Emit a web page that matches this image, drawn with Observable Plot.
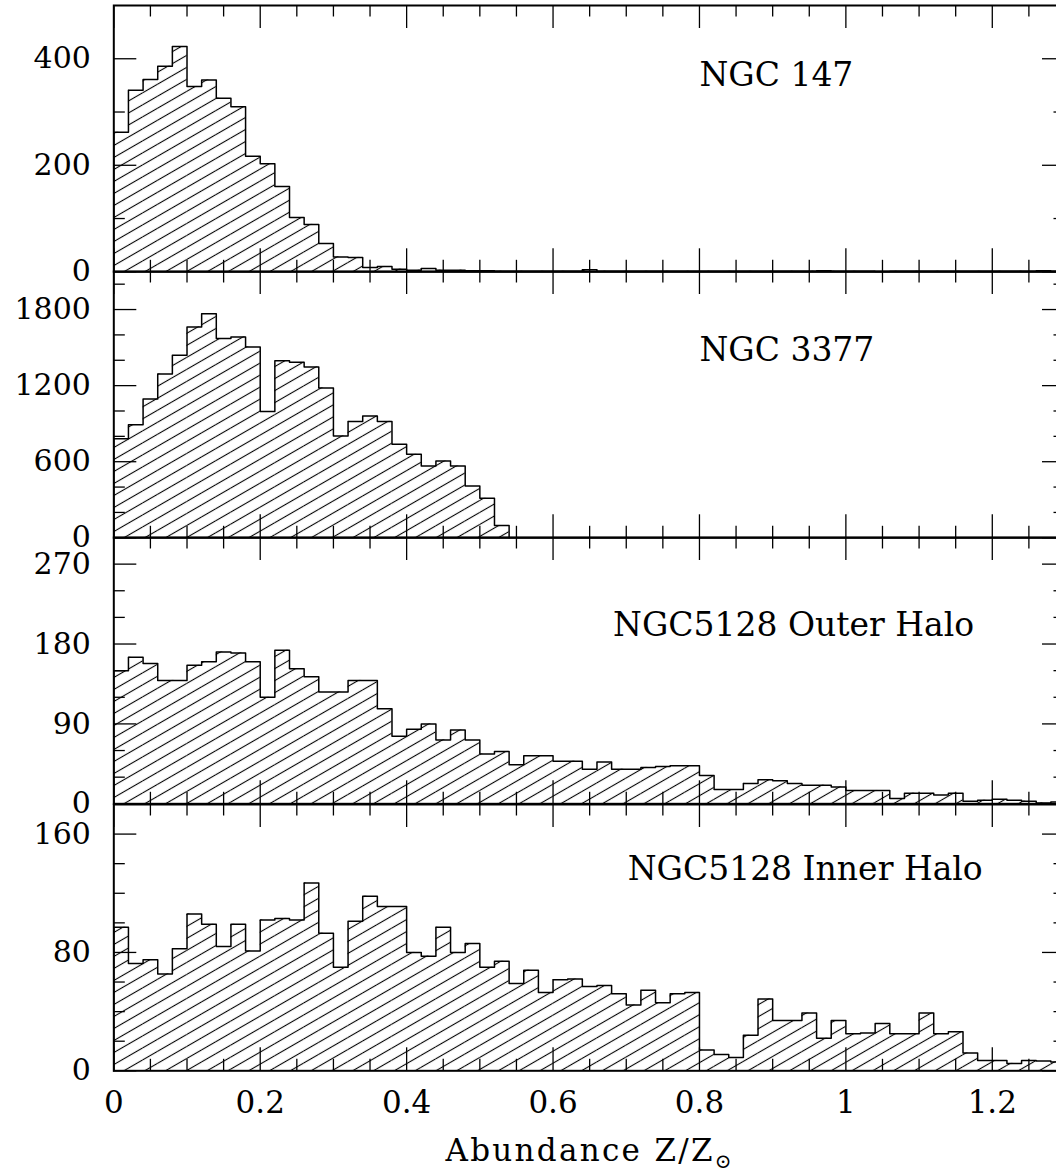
<!DOCTYPE html>
<html><head><meta charset="utf-8">
<script src="https://cdn.jsdelivr.net/npm/d3@7"></script>
<script src="https://cdn.jsdelivr.net/npm/@observablehq/plot@0.6"></script>
<style>
html,body{margin:0;padding:0;background:#fff;overflow:hidden;}
#chart{position:relative;width:1056px;height:1173px;overflow:hidden;background:#fff;}
#chart svg{position:absolute;left:0;}
</style></head><body><div id="chart"></div>
<script>
// ---- data ----
const binWidth = 0.02;
const ngc147 = [262, 341, 361, 386, 423, 348, 360, 326, 310, 217, 203, 160, 102, 89, 53, 28, 27, 8, 10, 5,
  3, 6, 3, 3, 2, 2, 1, 1, 1, 1, 1, 1, 4, 1, 1, 1, 1, 1, 1, 1,
  1, 1, 1, 1, 1, 1, 1, 1, 2, 1, 1, 1, 0.5, 1, 1, 1, 1, 1, 1, 1,
  1, 1, 1, 2, 1];
const ngc3377 = [782, 892, 1095, 1292, 1439, 1663, 1766, 1571, 1584, 1505, 995, 1397, 1384, 1347, 1182, 803,
  918, 961, 918, 737, 658, 566, 605, 566, 408, 311, 97];
const outerHalo = [150, 165, 158, 139, 139, 156, 160, 171, 170, 160, 120, 173, 152, 143, 126, 126, 139, 139, 107, 76,
  84, 90, 72, 83, 72, 56, 59, 44, 54, 54, 48, 48, 39, 47, 39, 39, 41, 42, 43, 43,
  32, 16, 16, 23, 27, 26, 23, 21, 21, 19, 15, 15, 15, 6, 12, 12, 10, 12, 3, 4,
  5, 4, 3, 1, 2];
const innerHalo = [97, 72.5, 75, 65.5, 82.5, 106, 99, 84, 99, 81, 102, 103, 102, 127, 93, 70, 101, 118, 111, 111,
  80, 77.5, 97, 80, 86, 70, 74, 59, 68, 53, 61.5, 62, 57, 57.6, 52, 44.5, 54.5, 46, 52, 53,
  14, 11, 9, 24, 48.6, 34, 34, 39, 22, 34, 25, 25.5, 32, 25, 25, 39, 25, 26.4, 12, 7,
  7, 5, 7, 6.6, 6];
const panelNames = ["NGC 147", "NGC 3377", "NGC5128 Outer Halo", "NGC5128 Inner Halo"];
const panelSeries = [ngc147, ngc3377, outerHalo, innerHalo];
const yMax = [500, 2100, 300, 180];
const yMajor = [[0, 200, 400], [0, 600, 1200, 1800], [0, 90, 180, 270], [0, 80, 160]];
const yMinor = [[100, 300], [200, 400, 800, 1000, 1400, 1600, 2000], [30, 60, 120, 150, 210, 240], [20, 40, 60, 100, 120, 140]];
const xMax = 1.3;
const xMajor = [0, 0.2, 0.4, 0.6, 0.8, 1, 1.2];
const xMinor = [0.05, 0.1, 0.15, 0.25, 0.3, 0.35, 0.45, 0.5, 0.55, 0.65, 0.7, 0.75, 0.85, 0.9, 0.95, 1.05, 1.1, 1.15, 1.25];
const xTitle = "Abundance Z/Z";
const xTitleSub = "\u2299";
// label anchor points (data coordinates)
const labelX = [0.8, 0.8, 0.682, 0.702];
const labelY = [348, 1396, 189, 129];

// ---- layout ----
const W = 1075, ML = 113.3, MR = W - 1065;
const H = 266.3, TOP0 = 4.7, MT = 40, MB = 40, MB4 = 120;
const FONT = "DejaVu Serif";
const chart = document.getElementById("chart");
const ns = "http://www.w3.org/2000/svg";
const plotW = W - ML - MR;

panelSeries.forEach((vals, i) => {
  const last = i === 3;
  const bins = vals.map((v, k) => ({x1: k * binWidth, x2: (k + 1) * binWidth, y: v}));
  const outline = [{x: 0, y: 0}, ...vals.map((v, k) => ({x: k * binWidth, y: v})), {x: vals.length * binWidth, y: 0}];
  const marks = [
    Plot.rectY(bins, {x1: "x1", x2: "x2", y: "y", fill: `url(#hatch${i})`}),
    Plot.line(outline, {x: "x", y: "y", curve: "step-after", stroke: "black", strokeWidth: 1.5}),
    Plot.tickX(xMajor, {x: d => d, insetTop: H - 23, strokeWidth: 1.3}),
    Plot.tickX(xMajor, {x: d => d, insetBottom: H - 23, strokeWidth: 1.3}),
    Plot.tickX(xMinor, {x: d => d, insetTop: H - 11.5, strokeWidth: 1.3}),
    Plot.tickX(xMinor, {x: d => d, insetBottom: H - 11.5, strokeWidth: 1.3}),
    Plot.tickY(yMajor[i], {y: d => d, insetRight: plotW - 23, strokeWidth: 1.3}),
    Plot.tickY(yMajor[i], {y: d => d, insetLeft: plotW - 23, strokeWidth: 1.3}),
    Plot.tickY(yMinor[i], {y: d => d, insetRight: plotW - 11.5, strokeWidth: 1.3}),
    Plot.tickY(yMinor[i], {y: d => d, insetLeft: plotW - 11.5, strokeWidth: 1.3}),
    Plot.axisY(yMajor[i], {anchor: "left", tickSize: 0, tickPadding: 23, fontSize: 30, label: null, fill: "black",
      tickFormat: d => String(d)}),
    Plot.text([panelNames[i]], {x: () => labelX[i], y: () => labelY[i], text: d => d, textAnchor: "start", lineAnchor: "bottom", fontSize: 33, fill: "black"}),
    Plot.frame({stroke: "black", strokeWidth: 2})
  ];
  if (last) {
    marks.push(Plot.axisX(xMajor, {anchor: "bottom", tickSize: 0, tickPadding: 20, fontSize: 31, label: null, fill: "black",
      tickFormat: d => String(+d.toFixed(1))}));
    marks.push(Plot.text([xTitle], {frameAnchor: "bottom", dy: 90, text: d => d, lineAnchor: "bottom", fontSize: 31, fill: "black"}));
  }
  const mb = last ? MB4 : MB;
  const svg = Plot.plot({
    width: W,
    height: MT + H + mb,
    marginLeft: ML, marginRight: MR, marginTop: MT, marginBottom: mb,
    x: {domain: [0, xMax], axis: last ? undefined : null},
    y: {domain: [0, yMax[i]]},
    style: {background: "transparent", overflow: "visible", maxWidth: "none", fontFamily: FONT, color: "black"},
    marks
  });
  const defs = document.createElementNS(ns, "defs");
  defs.innerHTML = `<pattern id="hatch${i}" patternUnits="userSpaceOnUse" width="20" height="10.4" patternTransform="rotate(-30)"><line x1="-1" y1="5.2" x2="21" y2="5.2" stroke="black" stroke-width="1.1"/></pattern>`;
  svg.insertBefore(defs, svg.firstChild);
  if (last) {
    const t = Array.from(svg.querySelectorAll("text")).find(el => el.textContent === xTitle);
    if (t) {
      t.setAttribute("letter-spacing", "2.3");
      const ts = document.createElementNS(ns, "tspan");
      ts.setAttribute("font-size", "20");
      ts.setAttribute("dy", "7");
      ts.textContent = xTitleSub;
      t.appendChild(ts);
    }
  }
  svg.style.top = (TOP0 + i * H - MT) + "px";
  chart.appendChild(svg);
});
</script></body></html>
